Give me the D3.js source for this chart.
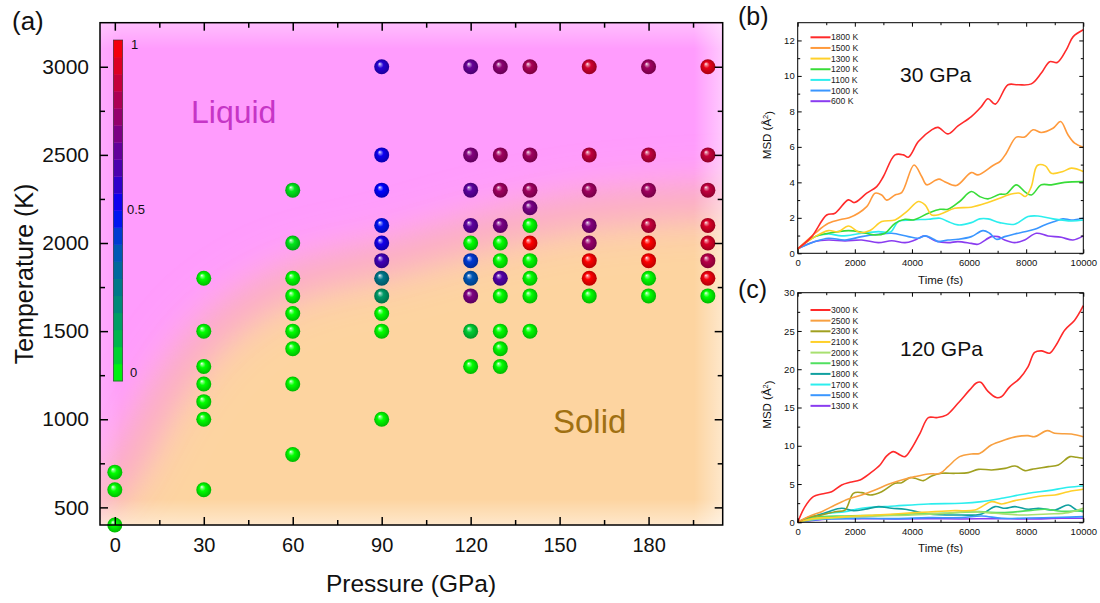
<!DOCTYPE html>
<html><head><meta charset="utf-8">
<script src="https://cdn.jsdelivr.net/npm/d3@7"></script>
<style>
body{margin:0;background:#fff;}
svg{display:block;font-family:"Liberation Sans",Arial,sans-serif;}
</style></head>
<body><svg id="c" width="1100" height="603"></svg>
<script>
// ---------------- DATA ----------------
// Panel (a): simulated points (pressure GPa, temperature K, order parameter 0..1)
const pointP = [0,0,0, 30,30,30,30,30,30,30, 60,60,60,60,60,60,60,60,60,
  90,90,90,90,90,90,90,90,90,90,90,
  120,120,120,120,120,120,120,120,120,120,
  130,130,130,130,130,130,130,130,130,130,130,
  140,140,140,140,140,140,140,140,140,140,
  160,160,160,160,160,160,160,160,
  180,180,180,180,180,180,180,180,
  200,200,200,200,200,200,200,200];
const pointT = [400,600,700, 600,1000,1100,1200,1300,1500,1800, 800,1200,1400,1500,1600,1700,1800,2000,2300,
  1000,1500,1600,1700,1800,1900,2000,2100,2300,2500,3000,
  1300,1500,1700,1800,1900,2000,2100,2300,2500,3000,
  1300,1400,1500,1700,1800,1900,2000,2100,2300,2500,3000,
  1500,1700,1800,1900,2000,2100,2200,2300,2500,3000,
  1700,1800,1900,2000,2100,2300,2500,3000,
  1700,1800,1900,2000,2100,2300,2500,3000,
  1700,1800,1900,2000,2100,2300,2500,3000];
const pointV = [0,0,0, 0,0,0,0,0,0,0, 0,0,0,0,0,0,0,0.04,0.04,
  0,0,0,0.18,0.28,0.6,0.53,0.48,0.5,0.52,0.56,
  0,0.08,0.73,0.38,0.43,0,0.66,0.66,0.74,0.68,
  0,0,0,0,0.64,0,0,0.72,0.8,0.8,0.76,
  0,0,0,0,1.0,0,0.72,0.8,0.8,0.82,
  0,1.0,1.0,0.78,0.74,0.8,0.87,0.9,
  0,0,1.0,1.0,0.88,0.8,0.87,0.8,
  0,0.97,0.85,0.92,0.92,0.87,0.88,0.95];
const xTicksA = [0,30,60,90,120,150,180];
const yTicksA = [500,1000,1500,2000,2500,3000];
// approximate liquid/solid boundary (GPa, K) used for background shading
const boundaryP = [-20,0,15,30,45,60,75,90,105,120,140,160,180,200,230];
const boundaryT = [350,650,1100,1450,1660,1790,1860,1910,1980,2050,2130,2190,2220,2240,2250];
const colorStops = [0,0.1,0.2,0.3,0.4,0.5,0.6,0.7,0.8,0.9,1];
const colorList = ["#00ff00","#00c040","#009070","#007090","#0050c0","#0000ff","#4000b8","#700090","#a00060","#d00030","#ff0000"];

// Panel (b): MSD at 30 GPa  [time fs, MSD A^2]
const labelsB = ["1800 K","1500 K","1300 K","1200 K","1100 K","1000 K","600 K"];
const colorsB = ["#ff2a2a","#ff9a3c","#ffd02a","#38dc38","#2ceeee","#3a96ff","#8a3cf0"];
const msd30_1800 = [[0,0.25],[490,0.94],[1015,2.16],[1307,2.26],[1774,3.01],[1984,2.86],[2416,3.39],[2766,3.76],[3000,4.33],[3408,5.55],[3700,5.55],[3875,5.42],[4225,6.3],[4691,6.96],[4912,7.1],[5263,6.73],[5613,7.18],[6080,7.71],[6430,8.27],[6663,8.71],[6920,8.41],[7364,9.5],[7714,9.5],[8180,9.55],[8530,10.16],[8823,10.8],[9090,10.76],[9405,11.47],[9640,12.2],[10000,12.6]];
const msd30_1500 = [[0,0.25],[607,1.13],[1074,1.69],[1540,1.92],[1800,2.0],[2416,2.63],[2707,3.39],[2941,3.29],[3116,3.0],[3408,3.29],[3641,3.42],[4073,4.98],[4341,4.33],[4516,3.86],[4808,4.1],[4950,4.18],[5145,4.04],[5554,3.82],[6079,4.55],[6312,4.42],[6838,4.95],[7100,5.2],[7304,5.64],[7654,6.55],[7946,6.55],[8238,6.96],[8530,6.81],[8938,7.05],[9206,7.43],[9463,6.68],[9697,6.21],[10000,5.98]];
const msd30_1300 = [[0,0.25],[607,0.94],[1074,1.28],[1424,1.22],[1774,1.54],[2182,1.17],[2532,1.28],[2941,1.79],[3408,1.88],[3816,2.35],[4225,2.92],[4458,2.73],[4691,2.16],[4983,2.2],[5496,2.54],[6079,2.6],[6663,2.86],[7071,3.1],[7363,3.29],[7771,3.39],[7970,3.2],[8180,3.76],[8390,4.95],[8670,4.93],[8880,4.51],[9288,4.61],[9580,4.8],[10000,4.61]];
const msd30_1200 = [[0,0.25],[607,0.94],[1074,1.13],[1774,1.28],[2240,1.19],[2707,1.03],[3058,1.13],[3408,1.69],[3758,1.92],[4050,1.88],[4575,2.26],[4983,2.48],[5262,2.48],[5670,2.92],[6079,3.48],[6371,3.2],[6663,3.07],[7071,3.33],[7304,3.35],[7654,3.86],[7946,3.48],[8180,3.29],[8530,3.86],[8880,3.86],[9347,4.0],[10000,4.04]];
const msd30_1100 = [[0,0.25],[607,0.94],[1074,1.09],[1540,0.98],[2240,1.13],[2824,1.22],[3250,1.2],[3524,1.79],[3991,1.88],[4575,1.92],[4983,1.98],[5262,1.79],[5612,1.6],[6079,1.73],[6371,1.94],[6663,1.94],[7071,1.73],[7596,1.64],[8063,2.07],[8413,2.1],[8938,1.94],[9580,1.82],[10000,1.88]];
const msd30_1000 = [[0,0.25],[607,0.66],[1074,0.85],[1657,0.75],[2240,0.94],[2824,1.07],[3291,1.13],[3875,0.94],[4225,0.85],[4458,0.98],[4808,0.75],[4912,0.66],[5262,0.75],[5612,0.79],[6079,0.94],[6487,1.28],[6721,1.13],[6955,0.79],[7246,0.94],[7596,1.09],[7946,1.22],[8296,1.35],[8646,1.6],[8996,1.79],[9288,1.94],[9580,1.88],[10000,1.98]];
const msd30_600 = [[0,0.25],[607,0.66],[1074,0.75],[1657,0.7],[2240,0.75],[2824,0.6],[3291,0.71],[3758,0.6],[4108,0.75],[4458,0.98],[4808,0.71],[5262,0.6],[5612,0.66],[6079,0.56],[6312,0.51],[6779,0.94],[7013,0.94],[7246,0.75],[7596,0.6],[7946,0.75],[8355,1.13],[8763,0.98],[9230,0.9],[9638,0.75],[10000,0.98]];
const seriesB = [msd30_1800,msd30_1500,msd30_1300,msd30_1200,msd30_1100,msd30_1000,msd30_600];

// Panel (c): MSD at 120 GPa
const labelsC = ["3000 K","2500 K","2300 K","2100 K","2000 K","1900 K","1800 K","1700 K","1500 K","1300 K"];
const colorsC = ["#ff2a2a","#f8a040","#a0a020","#ffd02a","#a8e070","#50e060","#10a0a0","#2ceeee","#3a96ff","#8a3cf0"];
const msd120_3000 = [[0,0],[257,2.05],[548,3.35],[840,3.7],[1190,4.0],[1540,4.88],[1832,5.23],[2182,5.53],[2532,6.4],[2882,7.49],[3116,8.67],[3349,9.23],[3583,8.8],[3758,8.58],[3991,9.67],[4283,11.63],[4575,13.68],[4866,13.68],[5204,14.0],[5612,15.55],[6021,17.3],[6254,18.2],[6406,18.3],[6663,17.1],[6955,16.3],[7129,16.4],[7421,17.7],[7771,18.8],[8063,20.3],[8296,22.2],[8530,22.4],[8822,22.1],[9055,23.2],[9347,25.1],[9697,26.4],[10000,28.3]];
const msd120_2500 = [[0,0],[373,0.74],[840,1.39],[1307,2.26],[1774,3.05],[2240,3.57],[2707,4.22],[3174,4.97],[3641,5.53],[4108,5.97],[4575,6.32],[4983,6.4],[5262,7.27],[5670,8.58],[6079,8.93],[6371,9.0],[6779,10.1],[7246,10.76],[7654,11.19],[8063,11.32],[8296,11.19],[8740,11.98],[8996,11.63],[9580,11.54],[10000,11.19]];
const msd120_2300 = [[0,0],[373,0.65],[840,0.96],[1307,1.39],[1657,1.6],[1949,3.79],[2240,3.88],[2532,3.57],[2941,4.0],[3408,5.1],[3641,5.18],[3933,5.84],[4108,5.75],[4400,5.44],[4691,6.05],[5041,6.4],[5508,6.4],[5975,6.49],[6325,6.92],[6792,6.84],[7258,7.05],[7608,7.36],[7958,6.75],[8192,6.92],[8776,7.27],[9126,7.49],[9534,8.58],[9768,8.49],[10000,8.36]];
const msd120_2100 = [[0,0],[607,0.52],[1307,0.65],[2007,0.83],[2707,0.96],[3408,1.09],[4108,1.26],[4808,1.39],[5508,1.52],[6208,1.61],[6792,2.7],[7142,2.4],[7608,2.83],[8075,3.14],[8542,3.44],[9009,3.57],[9476,4.0],[10000,4.31]];
const msd120_2000 = [[0,0],[607,0.39],[1657,0.65],[2824,0.83],[3991,0.96],[5158,1.18],[6091,1.39],[6909,1.18],[7842,0.96],[8776,1.09],[9476,1.26],[10000,1.83]];
const msd120_1900 = [[0,0],[607,0.65],[1657,0.83],[2824,0.91],[3991,1.09],[5158,1.18],[6325,1.39],[7142,1.26],[8075,1.52],[8659,1.7],[9243,1.44],[10000,1.52]];
const msd120_1800 = [[0,0],[490,0.65],[1074,1.39],[1540,1.83],[1949,1.52],[2357,1.7],[2824,2.05],[3291,1.83],[3758,1.7],[4575,1.09],[5508,0.96],[6442,1.09],[6909,2.05],[7258,1.83],[7608,2.05],[8075,1.7],[8425,1.83],[9009,1.61],[9476,2.26],[9768,1.61],[10000,1.39]];
const msd120_1700 = [[0,0],[490,0.74],[1074,1.18],[1657,1.39],[2240,1.83],[3408,2.13],[4575,2.4],[5741,2.48],[6442,2.7],[7142,3.14],[8075,3.79],[8776,4.14],[9476,4.57],[10000,4.75]];
const msd120_1500 = [[0,0],[840,0.39],[2240,0.52],[3408,0.48],[4575,0.61],[5741,0.61],[6442,0.83],[7142,0.52],[8075,0.57],[9243,0.65],[10000,0.74]];
const msd120_1300 = [[0,0],[1074,0.44],[2240,0.48],[3408,0.44],[4575,0.48],[5741,0.44],[6909,0.48],[8075,0.44],[9243,0.52],[10000,0.52]];
const seriesC = [msd120_3000,msd120_2500,msd120_2300,msd120_2100,msd120_2000,msd120_1900,msd120_1800,msd120_1700,msd120_1500,msd120_1300];
const xTicksMSD = [0,2000,4000,6000,8000,10000];

// ---------------- DRAW ----------------
const svg = d3.select("#c");
const defs = svg.append("defs");
const FONT = "Liberation Sans, Arial, sans-serif";

function styleAxis(g, size, sw){
  g.select(".domain").remove();
  g.selectAll(".tick line").attr("stroke","#000").attr("stroke-width",sw);
  g.selectAll(".tick text").attr("font-size",size).attr("font-family",FONT).attr("fill","#111");
}
function frameAxes(g, x, y, xMaj, xMin, yMaj, yMin, majL, minL, fsX, fsY, padX, padY, sw){
  const b = y.range()[0], t = y.range()[1], l = x.range()[0], r = x.range()[1];
  g.append("g").attr("transform",`translate(0,${b})`).call(d3.axisBottom(x).tickValues(xMin).tickSize(-minL).tickFormat("")).call(s=>styleAxis(s,fsX,sw));
  g.append("g").attr("transform",`translate(0,${b})`).call(d3.axisBottom(x).tickValues(xMaj).tickSize(-majL).tickPadding(padX).tickFormat(d3.format("d"))).call(s=>styleAxis(s,fsX,sw));
  g.append("g").attr("transform",`translate(0,${t})`).call(d3.axisTop(x).tickValues(xMin).tickSize(-minL).tickFormat("")).call(s=>styleAxis(s,fsX,sw));
  g.append("g").attr("transform",`translate(0,${t})`).call(d3.axisTop(x).tickValues(xMaj).tickSize(-majL).tickFormat("")).call(s=>styleAxis(s,fsX,sw));
  g.append("g").attr("transform",`translate(${l},0)`).call(d3.axisLeft(y).tickValues(yMin).tickSize(-minL).tickFormat("")).call(s=>styleAxis(s,fsY,sw));
  g.append("g").attr("transform",`translate(${l},0)`).call(d3.axisLeft(y).tickValues(yMaj).tickSize(-majL).tickPadding(padY).tickFormat(d3.format("d"))).call(s=>styleAxis(s,fsY,sw));
  g.append("g").attr("transform",`translate(${r},0)`).call(d3.axisRight(y).tickValues(yMin).tickSize(-minL).tickFormat("")).call(s=>styleAxis(s,fsY,sw));
  g.append("g").attr("transform",`translate(${r},0)`).call(d3.axisRight(y).tickValues(yMaj).tickSize(-majL).tickFormat("")).call(s=>styleAxis(s,fsY,sw));
  g.append("rect").attr("x",l).attr("y",t).attr("width",r-l).attr("height",b-t).attr("fill","none").attr("stroke","#000").attr("stroke-width",sw);
}

// ===== Panel (a) =====
const xA = d3.scaleLinear().domain([-5,205]).range([100,722.7]);
const yA = d3.scaleLinear().domain([400,3250]).range([525,22.7]);
const color = d3.scaleLinear().domain(colorStops).range(colorList).interpolate(d3.interpolateRgb);
const gA = svg.append("g");

defs.append("clipPath").attr("id","clipA").append("rect")
  .attr("x",100).attr("y",22.7).attr("width",622.7).attr("height",502.3);
const blur = defs.append("filter").attr("id","blurA").attr("filterUnits","userSpaceOnUse")
  .attr("x",-200).attr("y",-200).attr("width",1400).attr("height",1100);
blur.append("feGaussianBlur").attr("stdDeviation",28);
const blur2 = defs.append("filter").attr("id","blurB").attr("filterUnits","userSpaceOnUse")
  .attr("x",-200).attr("y",-200).attr("width",1400).attr("height",1100);
blur2.append("feGaussianBlur").attr("stdDeviation",14);

const bg = gA.append("g").attr("clip-path","url(#clipA)");
bg.append("rect").attr("x",100).attr("y",22.7).attr("width",622.7).attr("height",502.3).attr("fill","#ff9cfd");
const bpts = boundaryP.map((p,i)=>[xA(p),yA(boundaryT[i])]);
const solidPoly = bpts.concat([[xA(300),yA(boundaryT[boundaryT.length-1])],[xA(300),yA(-500)],[xA(-60),yA(-500)],[xA(-60),yA(boundaryT[0])]]);
bg.append("path").attr("d", d3.line().curve(d3.curveCatmullRom)(solidPoly)+"Z")
  .attr("fill","#fdd4a0").attr("filter","url(#blurA)");
// salmon tint along the boundary
bg.append("path").attr("d", d3.line().curve(d3.curveCatmullRom)(bpts))
  .attr("fill","none").attr("stroke","#f7a0b4").attr("stroke-width",26).attr("stroke-opacity",0.45).attr("filter","url(#blurB)");
// soft light edges
function edgeGrad(id,x1,y1,x2,y2,op){
  const g = defs.append("linearGradient").attr("id",id).attr("x1",x1).attr("y1",y1).attr("x2",x2).attr("y2",y2);
  g.append("stop").attr("offset","0%").attr("stop-color","#fff").attr("stop-opacity",op);
  g.append("stop").attr("offset","100%").attr("stop-color","#fff").attr("stop-opacity",0);
}
edgeGrad("eTop","0","0","0","1",0.35);
edgeGrad("eBot","0","1","0","0",0.45);
edgeGrad("eRight","1","0","0","0",0.45);
edgeGrad("eLeft","0","0","1","0",0.15);
bg.append("rect").attr("x",100).attr("y",22.7).attr("width",622.7).attr("height",26).attr("fill","url(#eTop)");
bg.append("rect").attr("x",100).attr("y",499).attr("width",622.7).attr("height",26).attr("fill","url(#eBot)");
bg.append("rect").attr("x",694).attr("y",22.7).attr("width",28.7).attr("height",502.3).attr("fill","url(#eRight)");
bg.append("rect").attr("x",100).attr("y",22.7).attr("width",22).attr("height",502.3).attr("fill","url(#eLeft)");

// Phase labels
gA.append("text").attr("x",191).attr("y",123).attr("font-size",32).attr("font-family",FONT).attr("fill","#c635c6").text("Liquid");
gA.append("text").attr("x",553).attr("y",433).attr("font-size",33).attr("font-family",FONT).attr("fill","#a07012").text("Solid");

// Colorbar
const cbTop = 40, cbBot = 381, cbX = 113.3, cbW = 9.4, nBands = 20;
const cbScale = d3.scaleLinear().domain([0,1]).range([cbBot,cbTop]);
const bands = d3.range(nBands);
gA.selectAll("rect.cb").data(bands).enter().append("rect").attr("class","cb")
  .attr("x",cbX).attr("width",cbW)
  .attr("y",d=>cbScale((d+1)/nBands)).attr("height",d=>cbScale(d/nBands)-cbScale((d+1)/nBands)+0.3)
  .attr("fill",d=>color((d+0.5)/nBands));
gA.append("rect").attr("x",cbX).attr("y",cbTop).attr("width",cbW).attr("height",cbBot-cbTop).attr("fill","none").attr("stroke","#333").attr("stroke-width",0.6);
[[1,"1",131,44],[0.5,"0.5",127,209],[0,"0",130,372.5]].forEach(d=>{
  gA.append("text").attr("x",d[2]).attr("y",d[3]).attr("dy","0.35em").attr("font-size",13).attr("font-family",FONT).attr("fill","#111").text(d[1]);
});

// Balls
const pts = pointP.map((p,i)=>({p, t:pointT[i], v:pointV[i]}));
pts.forEach((d,i)=>{
  const c = d3.color(color(d.v));
  const g = defs.append("radialGradient").attr("id","ball"+i).attr("cx","50%").attr("cy","50%").attr("r","50%").attr("fx","36%").attr("fy","30%");
  g.append("stop").attr("offset","0%").attr("stop-color","#ffffff");
  g.append("stop").attr("offset","14%").attr("stop-color",d3.interpolateRgb("#ffffff",c.formatHex())(0.45));
  g.append("stop").attr("offset","42%").attr("stop-color",c.formatHex());
  g.append("stop").attr("offset","100%").attr("stop-color",c.darker(0.9).formatHex());
});
gA.selectAll("circle.ball").data(pts).enter().append("circle").attr("class","ball")
  .attr("cx",d=>xA(d.p)).attr("cy",d=>yA(d.t)).attr("r",7.5)
  .attr("fill",(d,i)=>`url(#ball${i})`);

// Axes (a)
frameAxes(gA, xA, yA, xTicksA, d3.range(15,205,30), yTicksA, d3.range(750,3250,500), 8, 5, 20, 21, 13, 11, 1.5);
gA.append("text").attr("x",411).attr("y",592).attr("text-anchor","middle").attr("font-size",24.5).attr("font-family",FONT).attr("fill","#111").text("Pressure (GPa)");
gA.append("text").attr("transform","translate(33,274) rotate(-90)").attr("text-anchor","middle").attr("font-size",25).attr("font-family",FONT).attr("fill","#111").text("Temperature (K)");
svg.append("text").attr("x",12).attr("y",30).attr("font-size",26).attr("font-family",FONT).attr("fill","#111").text("(a)");

// ===== Panels (b), (c) =====
function msdPanel(yTop, yBot, yMax, yMaj, yMin, series, labels, colors, title, titleY, legendY0, tag, tagY, xLabY, tickPadX){
  const x = d3.scaleLinear().domain([0,10000]).range([797.7,1083.3]);
  const y = d3.scaleLinear().domain([0,yMax]).range([yBot,yTop]);
  const g = svg.append("g");
  const line = d3.line().x(d=>x(d[0])).y(d=>y(d[1])).curve(d3.curveCatmullRom.alpha(0.5));
  for(let i=series.length-1;i>=0;i--){
    g.append("path").attr("d",line(series[i])).attr("fill","none").attr("stroke",colors[i]).attr("stroke-width",1.6).attr("stroke-linejoin","round");
  }
  frameAxes(g, x, y, xTicksMSD, d3.range(1000,10000,2000), yMaj, yMin, 4, 2.5, 9.5, 9.5, tickPadX, 3, 1);
  labels.forEach((lab,i)=>{
    const ly = legendY0 + i*10.65;
    g.append("line").attr("x1",810.5).attr("x2",830.5).attr("y1",ly).attr("y2",ly).attr("stroke",colors[i]).attr("stroke-width",2);
    g.append("text").attr("x",831).attr("y",ly).attr("dy","0.35em").attr("font-size",8.6).attr("font-family",FONT).attr("fill","#222").text(lab);
  });
  g.append("text").attr("x",900).attr("y",titleY).attr("font-size",21).attr("font-family",FONT).attr("fill","#111").text(title);
  g.append("text").attr("x",940.5).attr("y",xLabY).attr("text-anchor","middle").attr("font-size",11.5).attr("font-family",FONT).attr("fill","#111").text("Time (fs)");
  const my = (yTop+yBot)/2 - 3;
  const t = g.append("text").attr("transform",`translate(771,${my}) rotate(-90)`).attr("text-anchor","middle").attr("font-size",11.5).attr("font-family",FONT).attr("fill","#111");
  t.append("tspan").text("MSD (Å");
  t.append("tspan").attr("dy","-0.45em").attr("font-size",7.5).text("2");
  t.append("tspan").attr("dy","0.45em").text(")");
  svg.append("text").attr("x",738).attr("y",tagY).attr("font-size",25).attr("font-family",FONT).attr("fill","#111").text(tag);
}
msdPanel(22.7, 253.3, 13, [0,2,4,6,8,10,12], [1,3,5,7,9,11], seriesB, labelsB, colorsB, "30 GPa", 82, 37.3, "(b)", 25, 284, 6);
msdPanel(292.7, 522.3, 30, [0,5,10,15,20,25,30], [2.5,7.5,12.5,17.5,22.5,27.5], seriesC, labelsC, colorsC, "120 GPa", 356, 310, "(c)", 298, 552, 6);
</script></body></html>
